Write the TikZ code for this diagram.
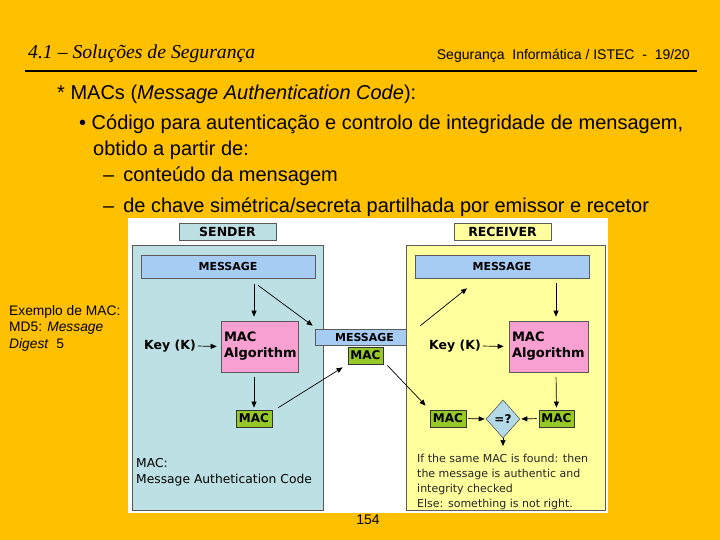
\documentclass[tikz,border=0pt]{standalone}
\usepackage{fontspec}
\setmainfont{Liberation Sans}
\newfontfamily\dvs{DejaVu Sans}
\newfontfamily\ttlfont{Liberation Serif}
\usetikzlibrary{shapes.geometric,arrows.meta}
\definecolor{bgor}{RGB}{255,192,0}
\definecolor{sblue}{RGB}{188,224,228}
\definecolor{mblue}{RGB}{166,204,244}
\definecolor{mpink}{RGB}{248,160,210}
\definecolor{mgreen}{RGB}{150,200,40}
\definecolor{ryel}{RGB}{255,255,158}
\definecolor{dblue}{RGB}{180,218,232}
\definecolor{bord}{RGB}{90,90,90}
\tikzset{
  box/.style={draw=bord, line width=0.6pt, inner sep=0pt, font=\dvs\bfseries\fontsize{11}{13}\selectfont},
  labbox/.style={box, font=\dvs\bfseries\fontsize{12.5}{14}\selectfont},
  msgbox/.style={box, fill=mblue},
  algbox/.style={box, fill=mpink, align=left, font=\dvs\bfseries\fontsize{13}{16}\selectfont},
  macbox/.style={box, fill=mgreen, draw=black!80, line width=0.8pt, minimum width=36pt, minimum height=17pt, font=\dvs\bfseries\fontsize{12}{14}\selectfont},
  keytxt/.style={inner sep=0pt, font=\dvs\bfseries\fontsize{12.5}{15}\selectfont},
  arr/.style={-{Triangle[length=6pt,width=5pt]}, line width=0.7pt, black},
  bodytxt/.style={anchor=base west, inner sep=0pt, font=\fontsize{20}{23}\selectfont},
}
\begin{document}
\begin{tikzpicture}[x=1pt,y=-1pt]
\useasboundingbox (0,0) rectangle (720,540);
\fill[bgor] (0,0) rectangle (720,540);
% header
\node[anchor=base west, inner sep=0pt, font=\ttlfont\itshape\fontsize{19.7}{22}\selectfont] (title) at (28,59) {4.1 – Soluções de Segurança};
\node[anchor=base east, inner sep=0pt, font=\fontsize{14}{16}\selectfont] (hdr) at (690,60) {Segurança \ Informática / ISTEC \ - \ 19/20};
\draw[line width=2pt] (25,71) -- (697,71);
% body text
\node[bodytxt] (l1) at (57,100) {* MACs (\textit{Message Authentication Code}):};
\node[bodytxt] (l2) at (79,130) {• Código para autenticação e controlo de integridade de mensagem,};
\node[bodytxt] (l3) at (93,156) {obtido a partir de:};
\node[bodytxt] (l4) at (103,182) {–\hspace{9pt}conteúdo da mensagem};
\node[bodytxt] (l5) at (103,212) {–\hspace{9pt}de chave simétrica/secreta partilhada por emissor e recetor};
% side note
\node[anchor=north west, inner sep=0pt, align=left, font=\fontsize{13.8}{16.5}\selectfont] (note) at (9,305) {Exemplo de MAC:\\MD5: \textit{Message}\\\textit{Digest}\ \ 5};
% diagram background
\fill[white] (128,218) rectangle (608,513);
% sender
\node[labbox, fill=sblue, minimum width=97pt, minimum height=17pt] (slab) at (227.5,231.5) {SENDER};
\node[box, fill=sblue, minimum width=191pt, minimum height=265pt] (sbox) at (227.5,377.5) {};
\node[msgbox, minimum width=174pt, minimum height=23pt] (smsg) at (228,266.5) {MESSAGE};
\node[algbox, minimum width=77pt, minimum height=51pt, text width=71pt] (salg) at (259.5,346.5) {MAC\\Algorithm};
\node[keytxt] (skey) at (170,346) {Key (K)};
\node[macbox] (smac) at (254,418.5) {MAC};
\node[anchor=north west, inner sep=0pt, align=left, font=\dvs\fontsize{12.3}{16}\selectfont] (sdef) at (136,458) {MAC:\\Message Authetication Code};
% middle
\node[msgbox, minimum width=99pt, minimum height=16pt] (mmsg) at (364.5,337) {MESSAGE};
\node[macbox, minimum width=35pt] (mmac) at (365.5,355.5) {MAC};
% receiver
\node[labbox, fill=ryel, minimum width=97pt, minimum height=17pt] (rlab) at (502.5,231.5) {RECEIVER};
\node[box, fill=ryel, minimum width=199pt, minimum height=265pt] (rbox) at (505.5,377.5) {};
\node[msgbox, minimum width=174pt, minimum height=23pt] (rmsg) at (502,266.5) {MESSAGE};
\node[algbox, minimum width=79pt, minimum height=51pt, text width=73pt] (ralg) at (548.5,346.5) {MAC\\Algorithm};
\node[keytxt] (rkey) at (455,346) {Key (K)};
\node[macbox, minimum width=35pt] (rmac) at (556.5,418.5) {MAC};
\node[macbox] (lmac) at (448,418.5) {MAC};
\node[diamond, draw=bord, fill=dblue, line width=0.6pt, minimum width=34pt, minimum height=38pt, inner sep=0pt, font=\dvs\bfseries\fontsize{12}{14}\selectfont] (dia) at (503,419) {=?};
\coordinate (dend) at (503,446);
\node[anchor=north west, inner sep=0pt, align=left, font=\dvs\fontsize{11}{15}\selectfont, text=black!85] (rtxt) at (417,454) {If the same MAC is found: then\\the message is authentic and\\integrity checked\\Else: something is not right.};
% arrows
\draw[arr, shorten <=6pt, shorten >=4pt] ([xshift=26pt]smsg.south) -- ([xshift=-5.5pt]salg.north);
\draw[arr] ([xshift=30pt,yshift=-7pt]smsg.south) -- ([xshift=-2pt,yshift=3pt]mmsg.north west);
\draw[arr, shorten <=2pt, shorten >=4pt] (skey.east) -- (salg.west);
\draw[arr, shorten <=5pt, shorten >=2pt] ([xshift=-5.5pt]salg.south) -- (smac.north);
\draw[arr] ([xshift=6pt,yshift=2pt]smac.north east) -- ([xshift=-5pt,yshift=-3pt]mmac.south west);
\draw[arr] ([xshift=6pt,yshift=3pt]mmsg.north east) -- ([xshift=-35pt,yshift=-10pt]rmsg.south);
\draw[arr, shorten <=5pt, shorten >=4pt] ([xshift=54pt]rmsg.south) -- ([xshift=7.5pt]ralg.north);
\draw[arr, shorten <=2pt, shorten >=5pt] (rkey.east) -- (ralg.west);
\draw[arr, shorten <=5pt, shorten >=2pt] ([xshift=7.5pt]ralg.south) -- (rmac.north);
\draw[arr] ([xshift=4pt,yshift=-1pt]mmac.south east) -- ([xshift=-4pt,yshift=4pt]lmac.north west);
\draw[arr, shorten <=2pt, shorten >=1pt] (lmac.east) -- (dia.west);
\draw[arr, shorten <=2pt, shorten >=1pt] (rmac.west) -- (dia.east);
\draw[arr] (dia.south) -- (dend);
% page number
\node[inner sep=0pt, font=\fontsize{14}{16}\selectfont] (pg) at (368,519.5) {154};
\end{tikzpicture}
\end{document}
